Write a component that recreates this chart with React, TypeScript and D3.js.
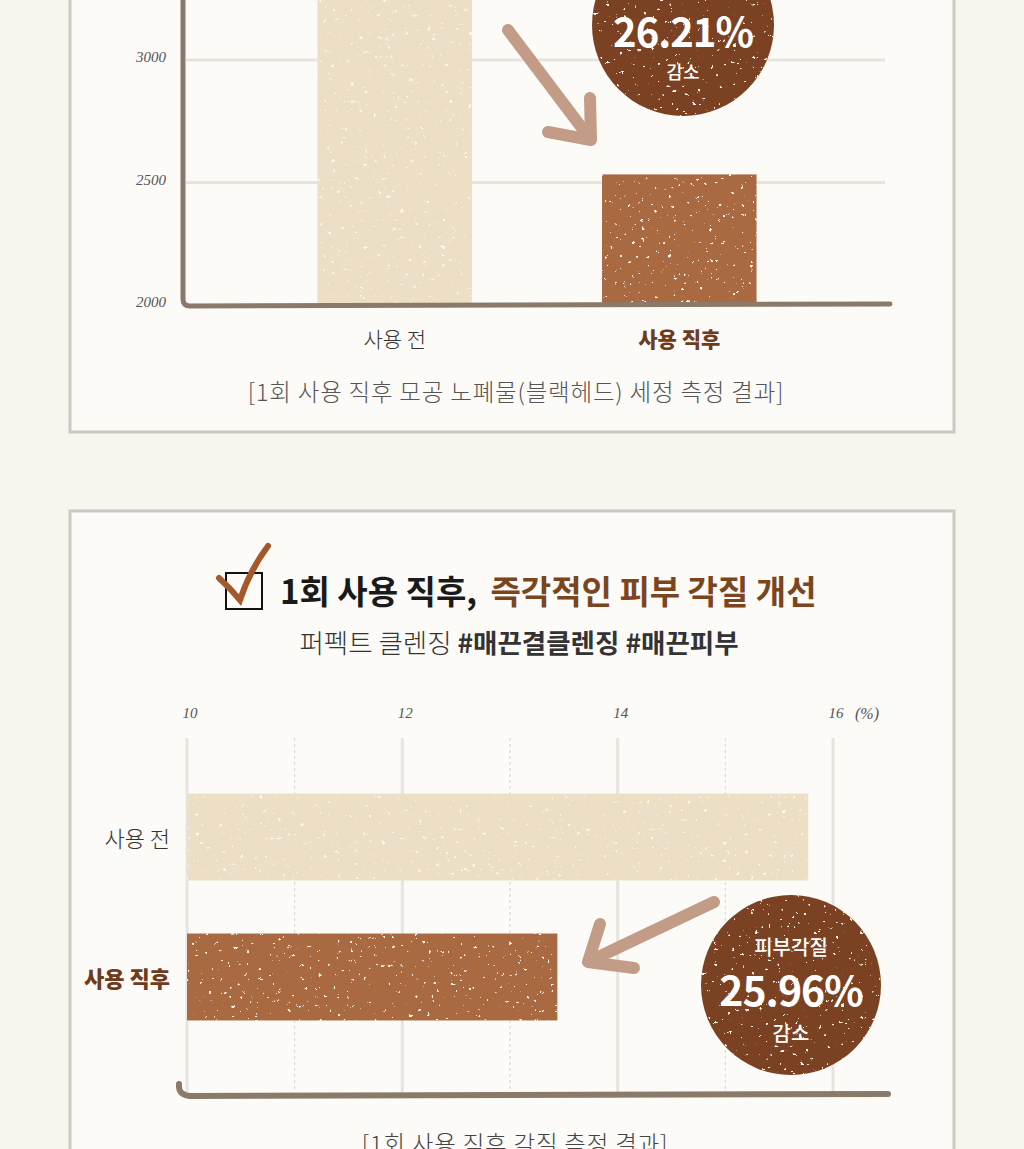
import { useEffect, useRef } from 'react';
import * as d3 from 'd3';

// top chart: blackhead cleansing (before / right after)
const poreCategories = ['사용 전', '사용 직후'];
const poreValues = [3433, 2533];
const poreTicks = [2000, 2500, 3000];
const poreGrid = [2500, 3000, 3500];
const poreBadge = ['26.21%', '감소'];
const poreCaption = '[1회 사용 직후 모공 노폐물(블랙헤드) 세정 측정 결과]';

// bottom chart: skin keratin (%)
const keratinCategories = ['사용 전', '사용 직후'];
const keratinValues = [15.77, 13.44];
const keratinTicks = [10, 12, 14, 16];
const keratinMinorTicks = [11, 13, 15];
const keratinBadge = ['피부각질', '25.96%', '감소'];
const keratinTitle = ['1회 사용 직후, ', '즉각적인 피부 각질 개선'];
const keratinSubtitle = ['퍼펙트 클렌징 ', '#매끈결클렌징 #매끈피부'];
const keratinCaption = '[1회 사용 직후 각질 측정 결과]';

const W = 1024;
const H = 1149;
const KR = "'Noto Sans CJK KR', 'Noto Sans', sans-serif";
const HAND = "'Liberation Serif', 'DejaVu Serif', serif";

const LIGHT = '#ecdfc5';
const DARK = '#a96a43';
const BADGE = '#7a4322';
const ARROW = '#c29c86';
const AXIS = '#8a7a6c';
const GRID = '#e7e4df';

export default function App() {
  const svgRef = useRef<SVGSVGElement>(null);

  useEffect(() => {
    if (!svgRef.current) return;
    const svg = d3.select(svgRef.current);
    svg.selectAll('*').remove();

    // sparse speckle texture for bars and badges
    const defs = svg.append('defs');
    const f = defs.append('filter').attr('id', 'grain').attr('x', 0).attr('y', 0).attr('width', 1).attr('height', 1);
    f.append('feTurbulence').attr('type', 'fractalNoise').attr('baseFrequency', 0.22).attr('numOctaves', 3).attr('seed', 11).attr('result', 'noise');
    f.append('feColorMatrix').attr('in', 'noise').attr('type', 'matrix')
      .attr('values', '0 0 0 0 1  0 0 0 0 0.93  0 0 0 0 0.85  24 0 0 0 -17.6').attr('result', 'specks');
    f.append('feComposite').attr('in', 'specks').attr('in2', 'SourceGraphic').attr('operator', 'in').attr('result', 'sp');
    const merge = f.append('feMerge');
    merge.append('feMergeNode').attr('in', 'SourceGraphic');
    merge.append('feMergeNode').attr('in', 'sp');

    // page + cards
    svg.append('rect').attr('width', W).attr('height', H).attr('fill', '#f8f4ee');
    svg.append('rect').attr('x', 70).attr('y', -10).attr('width', 884).attr('height', 442)
      .attr('fill', '#fcfbf8').attr('stroke', '#cbc8c3').attr('stroke-width', 3);
    svg.append('rect').attr('x', 70).attr('y', 511).attr('width', 884).attr('height', 660)
      .attr('fill', '#fcfbf8').attr('stroke', '#cbc8c3').attr('stroke-width', 3);

    // ---------- top chart ----------
    const top = svg.append('g');
    const y1 = d3.scaleLinear().domain([2000, 3000]).range([305, 60]);
    const x1 = d3.scaleBand().domain(poreCategories).range([186, 888]).paddingInner(0.457).paddingOuter(0.462);

    top.selectAll('.grid1').data(poreGrid).join('line')
      .attr('x1', 186).attr('x2', 885)
      .attr('y1', (d) => y1(d)).attr('y2', (d) => y1(d))
      .attr('stroke', GRID).attr('stroke-width', 3);

    top.selectAll('.bar1').data(poreValues).join('rect')
      .attr('x', (_, i) => x1(poreCategories[i]) || 0)
      .attr('width', x1.bandwidth())
      .attr('y', (d) => y1(d))
      .attr('height', (d) => y1(2000) - y1(d))
      .attr('fill', (_, i) => (i === 0 ? LIGHT : DARK))
      .attr('filter', 'url(#grain)');

    // axes (hand drawn look)
    top.append('path')
      .attr('d', `M183,-5 L183,${y1(2000) - 6} Q183,${y1(2000) + 1} 190,${y1(2000) + 1} L890,${y1(2000) - 1}`)
      .attr('fill', 'none').attr('stroke', AXIS).attr('stroke-width', 5).attr('stroke-linecap', 'round');

    top.selectAll('.tick1').data(poreTicks).join('text')
      .attr('x', 166).attr('y', (d) => y1(d) - 3)
      .attr('dy', '0.35em').attr('text-anchor', 'end')
      .attr('font-family', HAND).attr('font-style', 'italic').attr('font-size', 15).attr('fill', '#555')
      .text((d) => d);

    top.selectAll('.xl1').data(poreCategories).join('text')
      .attr('x', (d) => (x1(d) || 0) + x1.bandwidth() / 2)
      .attr('y', 340).attr('dy', '0.35em').attr('text-anchor', 'middle')
      .attr('font-family', KR).attr('font-size', 21)
      .attr('font-weight', (_, i) => (i === 0 ? 300 : 900))
      .attr('fill', (_, i) => (i === 0 ? '#333' : '#6e3c1c'))
      .text((d) => d);

    top.append('text').attr('x', 516).attr('y', 393).attr('dy', '0.35em').attr('text-anchor', 'middle')
      .attr('font-family', KR).attr('font-size', 23.5).attr('font-weight', 300).attr('letter-spacing', 0.8)
      .attr('fill', '#555')
      .text(poreCaption);

    // arrow
    const a1 = top.append('g').attr('stroke', ARROW).attr('stroke-width', 12).attr('stroke-linecap', 'round')
      .attr('stroke-linejoin', 'round').attr('fill', 'none');
    a1.append('line').attr('x1', 508).attr('y1', 30).attr('x2', 588).attr('y2', 136);
    a1.append('path').attr('d', 'M590,98 L591,140 L548,132');

    // badge
    const b1 = top.append('g').attr('transform', 'translate(683,25)');
    b1.append('circle').attr('r', 91).attr('fill', BADGE).attr('filter', 'url(#grain)');
    b1.append('text').attr('y', 8).attr('dy', '0.35em').attr('text-anchor', 'middle')
      .attr('font-family', KR).attr('font-weight', 700).attr('font-size', 40).attr('letter-spacing', -1)
      .attr('fill', '#fff').text(poreBadge[0]);
    b1.append('text').attr('y', 48).attr('dy', '0.35em').attr('text-anchor', 'middle')
      .attr('font-family', KR).attr('font-weight', 500).attr('font-size', 18)
      .attr('fill', '#fff').text(poreBadge[1]);

    // ---------- bottom chart ----------
    const bot = svg.append('g');

    // title with check box
    bot.append('rect').attr('x', 226).attr('y', 573).attr('width', 36).attr('height', 36)
      .attr('fill', 'none').attr('stroke', '#111').attr('stroke-width', 2);
    bot.append('path').attr('d', 'M219,578 Q230,588 240,600 Q250,570 268,546')
      .attr('fill', 'none').attr('stroke', '#a5592b').attr('stroke-width', 6).attr('stroke-linecap', 'round');

    const title = bot.append('text').attr('x', 280).attr('y', 604)
      .attr('font-family', KR).attr('font-weight', 700).attr('font-size', 33);
    title.append('tspan').attr('fill', '#1a1a1a').text(keratinTitle[0]);
    title.append('tspan').attr('fill', '#7b4520').attr('dx', 6).text(keratinTitle[1]);

    const sub = bot.append('text').attr('x', 519).attr('y', 653).attr('text-anchor', 'middle')
      .attr('font-family', KR).attr('font-size', 26.5).attr('fill', '#333');
    sub.append('tspan').attr('font-weight', 300).text(keratinSubtitle[0]);
    sub.append('tspan').attr('font-weight', 700).text(keratinSubtitle[1]);

    const x2 = d3.scaleLinear().domain([10, 16]).range([187, 833]);
    const y2 = d3.scaleBand().domain(keratinCategories).range([730, 1084]).paddingInner(0.379).paddingOuter(0.454);

    bot.selectAll('.minor2').data(keratinMinorTicks).join('line')
      .attr('x1', (d) => x2(d)).attr('x2', (d) => x2(d))
      .attr('y1', 738).attr('y2', 1092)
      .attr('stroke', '#d6d3ce').attr('stroke-width', 1).attr('stroke-dasharray', '3,3');
    bot.selectAll('.major2').data(keratinTicks).join('line')
      .attr('x1', (d) => x2(d)).attr('x2', (d) => x2(d))
      .attr('y1', 738).attr('y2', 1092)
      .attr('stroke', GRID).attr('stroke-width', 3);

    bot.selectAll('.tick2').data(keratinTicks).join('text')
      .attr('x', (d) => x2(d) + 3).attr('y', 713).attr('dy', '0.35em').attr('text-anchor', 'middle')
      .attr('font-family', HAND).attr('font-style', 'italic').attr('font-size', 15).attr('fill', '#555')
      .text((d) => d);
    bot.append('text').attr('x', x2(16) + 34).attr('y', 713).attr('dy', '0.35em').attr('text-anchor', 'middle')
      .attr('font-family', HAND).attr('font-style', 'italic').attr('font-size', 16).attr('fill', '#555')
      .text('(%)');

    bot.selectAll('.bar2').data(keratinValues).join('rect')
      .attr('x', x2(10))
      .attr('width', (d) => x2(d) - x2(10))
      .attr('y', (_, i) => y2(keratinCategories[i]) || 0)
      .attr('height', y2.bandwidth())
      .attr('fill', (_, i) => (i === 0 ? LIGHT : DARK))
      .attr('filter', 'url(#grain)');

    bot.selectAll('.yl2').data(keratinCategories).join('text')
      .attr('x', 170).attr('y', (d) => (y2(d) || 0) + y2.bandwidth() / 2 + 2)
      .attr('dy', '0.35em').attr('text-anchor', 'end')
      .attr('font-family', KR).attr('font-size', 22)
      .attr('font-weight', (_, i) => (i === 0 ? 300 : 900))
      .attr('fill', (_, i) => (i === 0 ? '#333' : '#6e3c1c'))
      .text((d) => d);

    // bottom axis with a curl
    bot.append('path').attr('d', 'M179,1084 Q178,1095 190,1096 L888,1094')
      .attr('fill', 'none').attr('stroke', AXIS).attr('stroke-width', 6).attr('stroke-linecap', 'round');

    // arrow
    const a2 = bot.append('g').attr('stroke', ARROW).attr('stroke-width', 12).attr('stroke-linecap', 'round')
      .attr('stroke-linejoin', 'round').attr('fill', 'none');
    a2.append('line').attr('x1', 714).attr('y1', 902).attr('x2', 592).attr('y2', 960);
    a2.append('path').attr('d', 'M600,924 L588,962 L634,968');

    // badge
    const b2 = bot.append('g').attr('transform', 'translate(791,985)');
    b2.append('circle').attr('r', 90).attr('fill', BADGE).attr('filter', 'url(#grain)');
    b2.append('text').attr('y', -37).attr('dy', '0.35em').attr('text-anchor', 'middle')
      .attr('font-family', KR).attr('font-weight', 500).attr('font-size', 20)
      .attr('fill', '#fff').text(keratinBadge[0]);
    b2.append('text').attr('y', 7).attr('dy', '0.35em').attr('text-anchor', 'middle')
      .attr('font-family', KR).attr('font-weight', 700).attr('font-size', 41).attr('letter-spacing', -1)
      .attr('fill', '#fff').text(keratinBadge[1]);
    b2.append('text').attr('y', 49).attr('dy', '0.35em').attr('text-anchor', 'middle')
      .attr('font-family', KR).attr('font-weight', 500).attr('font-size', 20)
      .attr('fill', '#fff').text(keratinBadge[2]);

    bot.append('text').attr('x', 515).attr('y', 1153).attr('text-anchor', 'middle')
      .attr('font-family', KR).attr('font-size', 23.5).attr('font-weight', 300).attr('letter-spacing', 0.8)
      .attr('fill', '#444')
      .text(keratinCaption);
  }, []);

  return (
    <svg
      ref={svgRef}
      width={W}
      height={H}
      style={{ position: 'absolute', left: 0, top: 0, display: 'block' }}
    />
  );
}
